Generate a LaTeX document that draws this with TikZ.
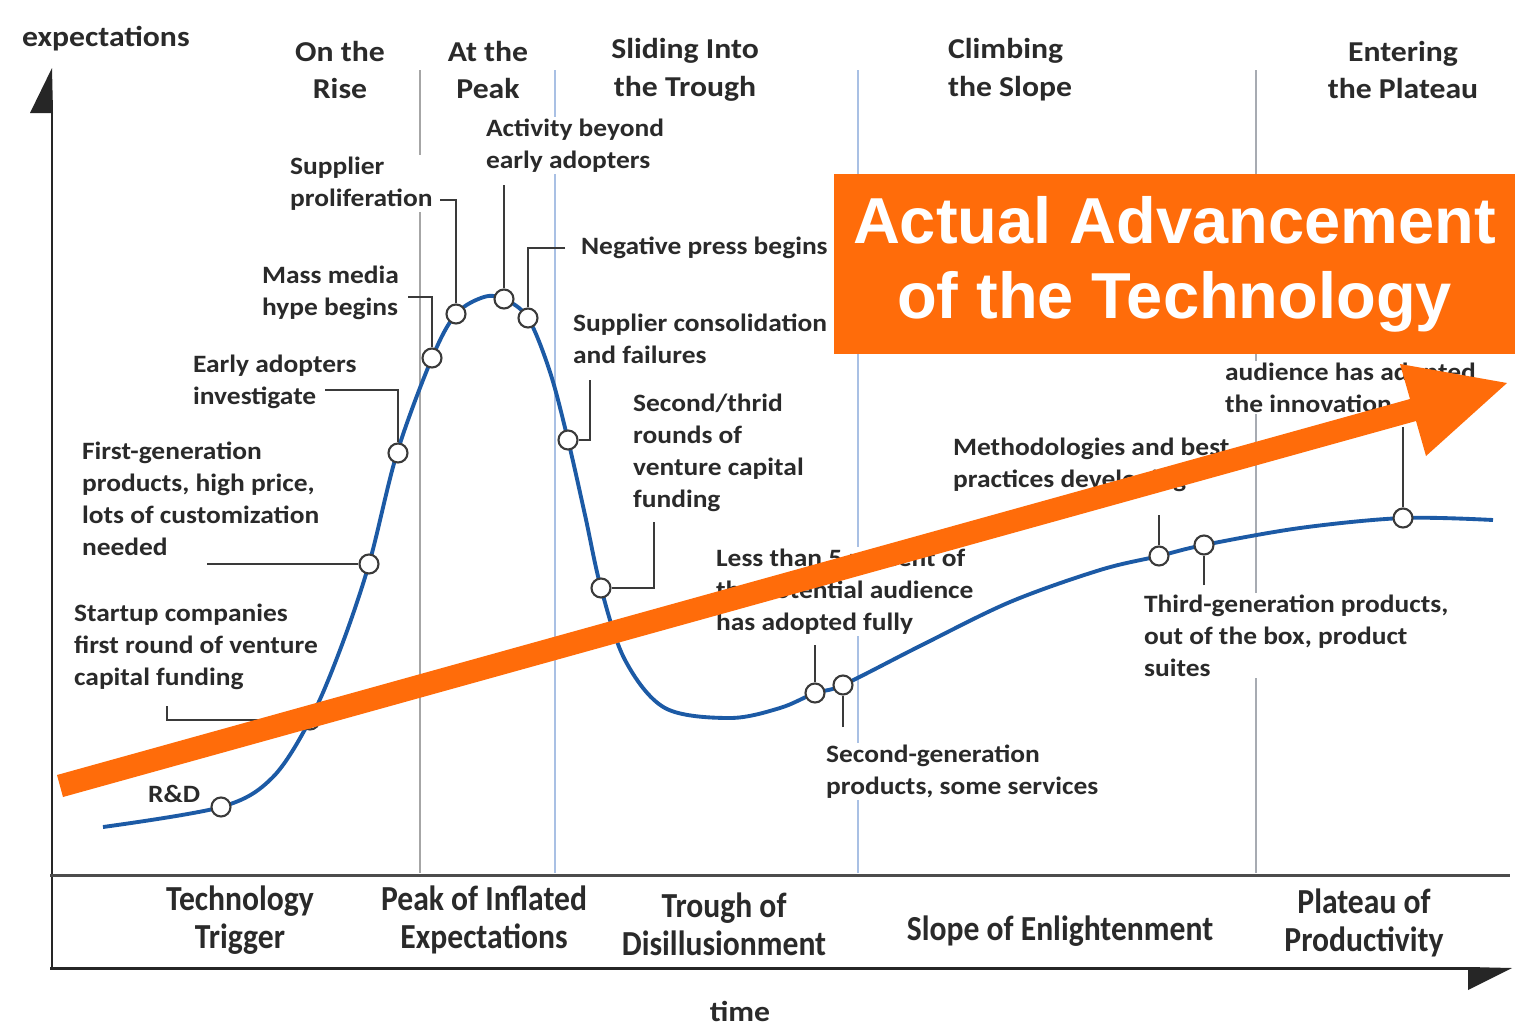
\documentclass[tikz,border=0pt]{standalone}
\usepackage{fontspec}
\setmainfont{Carlito}
\newfontfamily\titlefont{Liberation Sans}
\newfontfamily\widefont[FakeStretch=1.1]{Carlito}
\newfontfamily\condfont[FakeStretch=0.9]{Carlito}
\definecolor{txt}{HTML}{2A2A2A}
\definecolor{curveblue}{HTML}{1C5AA5}
\definecolor{circ}{HTML}{3A3A3A}
\definecolor{sepgray}{HTML}{A6A6A6}
\definecolor{sepblue}{HTML}{A9C0E4}
\definecolor{orangeA}{HTML}{FF6C0A}
\begin{document}
\begin{tikzpicture}[x=0.02cm, y=-0.02cm,
  callout/.style={font=\widefont\bfseries\fontsize{14.2}{18.1}\selectfont, text=txt, align=left, inner sep=1pt, fill=white, anchor=north west},
  phase/.style={font=\widefont\bfseries\fontsize{16.4}{21.5}\selectfont, text=txt, align=center, inner sep=1pt},
  bottomlbl/.style={font=\condfont\bfseries\fontsize{20}{21.5}\selectfont, text=txt, align=center, inner sep=1pt},
  pt/.style={circle, draw=circ, fill=white, line width=1.2pt, minimum size=0.38cm, inner sep=0pt},
  callline/.style={draw=circ, line width=1.2pt},
  sepline/.style={line width=0.8pt},
  axisline/.style={draw=black!85, line width=1.7pt},
  curveline/.style={draw=curveblue, line width=2.2pt},
  titlebox/.style={fill=orangeA, text=white, font=\titlefont\bfseries\fontsize{37}{42.5}\selectfont, align=center, minimum width=13.62cm, minimum height=3.6cm, inner sep=0pt}
]
\useasboundingbox (0,0) rectangle (1524,1028);
\fill[white] (0,0) rectangle (1524,1028);

% phase separators
\coordinate (s1t) at (420,70);  \coordinate (s1b) at (420,873);
\coordinate (s2t) at (555,70);  \coordinate (s2b) at (555,873);
\coordinate (s3t) at (858,70);  \coordinate (s3b) at (858,873);
\coordinate (s4t) at (1256,70); \coordinate (s4b) at (1256,873);
\draw[sepline, sepgray] (s1t) -- (s1b);
\draw[sepline, sepblue] (s2t) -- (s2b);
\draw[sepline, sepblue] (s3t) -- (s3b);
\draw[sepline, sepgray!80!sepblue] (s4t) -- (s4b);

% axes
\coordinate (origin) at (52,968);
\coordinate (ytip) at (52,68);
\coordinate (xend) at (1512,968);
\coordinate (midL) at (50,875);
\coordinate (midR) at (1510,875);
\draw[axisline] (origin) -- (52,100);
\fill[black!85] (ytip) -- (30,113) -- (53,113) -- cycle;
\draw[axisline] (50,968) -- (1480,968);
\fill[black!85] (xend) -- (1468,990) -- (1468,967) -- cycle;
\draw[draw=black!70, line width=1.7pt] (midL) -- (midR);

% axis labels
\node[phase, anchor=west] (ylab) at (20,39) {expectations};
\node[phase] (tlab) at (740,1011) {time};

% top phase labels
\node[phase] (ph1) at (340,70) {On the\\Rise};
\node[phase] (ph2) at (488,70) {At the\\Peak};
\node[phase] (ph3) at (685,70) {Sliding Into\\the Trough};
\node[phase, align=left, anchor=west] (ph4) at (946,70) {Climbing\\the Slope};
\node[phase] (ph5) at (1403,70) {Entering\\the Plateau};

% bottom phase labels
\node[bottomlbl] (b1) at (240,920) {Technology\\Trigger};
\node[bottomlbl] (b2) at (484,920) {Peak of Inflated\\Expectations};
\node[bottomlbl] (b3) at (724,924) {Trough of\\Disillusionment};
\node[bottomlbl] (b4) at (1060,931) {Slope of Enlightenment};
\node[bottomlbl] (b5) at (1364,923) {Plateau of\\Productivity};

% callout texts
\node[callout] (tSP) at (288,155) {Supplier\\proliferation};
\node[callout] (tMM) at (260,264) {Mass media\\hype begins};
\node[callout] (tEA) at (191,353) {Early adopters\\investigate};
\node[callout] (tFG) at (80,440) {First-generation\\products, high price,\\lots of customization\\needed};
\node[callout] (tSC) at (72,602) {Startup companies\\first round of venture\\capital funding};
\node[callout, fill=none] (tRD) at (146,783) {R\&D};
\node[callout] (tAB) at (484,117) {Activity beyond\\early adopters};
\node[callout] (tNP) at (579,235) {Negative press begins};
\node[callout] (tCF) at (571,312) {Supplier consolidation\\and failures};
\node[callout] (tST) at (631,392) {Second/thrid\\rounds of\\venture capital\\funding};
\node[callout] (tLT) at (714,547) {Less than 5 percent of\\the potential audience\\has adopted fully};
\node[callout] (tSG) at (824,743) {Second-generation\\products, some services};
\node[callout] (tMB) at (951,436) {Methodologies and best\\practices developing};
\node[callout] (tTG) at (1142,593) {Third-generation products,\\out of the box, product\\suites};
\node[callout] (tAU) at (1223,361) {audience has adopted\\the innovation};

% hype curve
\draw[curveline] plot[smooth, tension=0.55] coordinates {
 (103,827) (221,807) (272,778) (310,720) (340,650) (369,564) (397,453)
 (432,358) (456,314) (484,297) (504,299) (528,318) (550,372) (568,440)
 (585,515) (601,588) (625,660) (665,708) (730,718) (780,708) (815,693)
 (843,685) (920,646) (1010,602) (1100,570) (1159,556) (1204,545)
 (1300,528) (1403,518) (1493,520)};

% callout points
\node[pt] (pRD) at (221,807) {};
\node[pt] (pSC) at (310,720) {};
\node[pt] (pFG) at (369,564) {};
\node[pt] (pEA) at (398,453) {};
\node[pt] (pMM) at (432,358) {};
\node[pt] (pSP) at (456,314) {};
\node[pt] (pAB) at (504,299) {};
\node[pt] (pNP) at (528,318) {};
\node[pt] (pCF) at (568,440) {};
\node[pt] (pST) at (601,588) {};
\node[pt] (pLT) at (815,693) {};
\node[pt] (pSG) at (843,685) {};
\node[pt] (pMB) at (1159,556) {};
\node[pt] (pTG) at (1204,545) {};
\node[pt] (pAU) at (1403,518) {};

% callout connectors
\coordinate (aSC) at (167,706);
\coordinate (aFG) at (207,564);
\coordinate (aEA) at (325,390);
\coordinate (aMM) at (408,297);
\coordinate (aSP) at (440,200);
\coordinate (aAB) at (504,185);
\coordinate (aNP) at (565,248);
\coordinate (aCF) at (590,380);
\coordinate (aST) at (654,522);
\coordinate (aLT) at (815,645);
\coordinate (aSG) at (843,727);
\coordinate (aMB) at (1159,515);
\coordinate (aTG) at (1204,585);
\coordinate (aAU) at (1403,427);
\draw[callline] (aSC) |- (pSC);
\draw[callline] (aFG) -- (pFG);
\draw[callline] (aEA) -| (pEA);
\draw[callline] (aMM) -| (pMM);
\draw[callline] (aSP) -| (pSP);
\draw[callline] (aAB) -- (pAB);
\draw[callline] (aNP) -| (pNP);
\draw[callline] (aCF) |- (pCF);
\draw[callline] (aST) |- (pST);
\draw[callline] (aLT) -- (pLT);
\draw[callline] (aSG) -- (pSG);
\draw[callline] (aMB) -- (pMB);
\draw[callline] (aTG) -- (pTG);
\draw[callline] (aAU) -- (pAU);

% orange advancement arrow
\fill[orangeA] (57,775) -- (1410,399) -- (1400,364) -- (1507,383) -- (1426,456) -- (1416,421) -- (63,797) -- cycle;

% title box
\node[titlebox] (title) at (1174.5,264) {Actual Advancement\\of the Technology};
\end{tikzpicture}
\end{document}
